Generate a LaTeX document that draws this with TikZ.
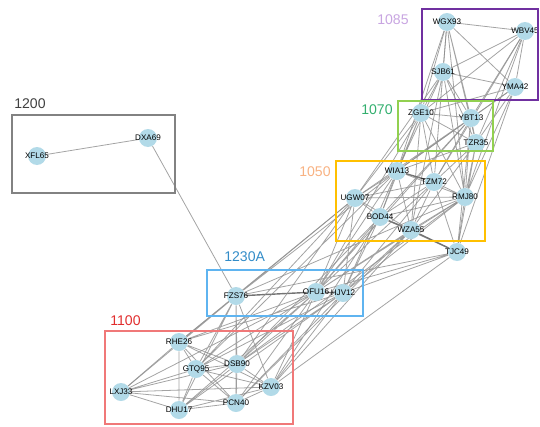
\documentclass[tikz,border=0pt]{standalone}
\usepackage{fontspec}
\setmainfont{Liberation Sans}
\usepackage{tikz}
\usetikzlibrary{backgrounds}

\definecolor{vfill}{RGB}{178,218,232}
\definecolor{ecol}{RGB}{140,140,140}
\definecolor{cPurple}{RGB}{112,48,160}
\definecolor{cLav}{RGB}{200,165,225}
\definecolor{cGreen}{RGB}{146,208,80}
\definecolor{cGreenT}{RGB}{50,175,110}
\definecolor{cGold}{RGB}{255,192,0}
\definecolor{cPeach}{RGB}{248,178,130}
\definecolor{cGrey}{RGB}{130,130,130}
\definecolor{cBlue}{RGB}{95,180,240}
\definecolor{cBlueT}{RGB}{50,140,200}
\definecolor{cRed}{RGB}{240,120,120}
\definecolor{cRedT}{RGB}{225,45,45}

\tikzset{
  vert/.style={circle, fill=vfill, inner sep=0pt, minimum size=0.36cm},
  lbl/.style={font=\fontsize{4.6}{5}\selectfont, text=black, inner sep=0pt},
  edge/.style={ecol, line width=0.45pt, opacity=0.8},
  heavy/.style={black!55, line width=0.8pt},
  grp/.style={line width=0.8pt},
  grplbl/.style={font=\fontsize{8}{9}\selectfont, anchor=west, inner sep=0pt}
}

\begin{document}
\begin{tikzpicture}[x=0.02cm, y=-0.02cm]
        \useasboundingbox (0,0) rectangle (540,426);

        % cluster 1085
        \node[vert, label={[lbl]center:WGX93}] (WGX93) at (447,22) {};
        \node[vert, label={[lbl]center:WBV45}] (WBV45) at (525,31) {};
        \node[vert, label={[lbl]center:SJB61}] (SJB61) at (443,72) {};
        \node[vert, label={[lbl]center:YMA42}] (YMA42) at (515,87) {};

        % cluster 1070
        \node[vert, label={[lbl]center:ZGE10}] (ZGE10) at (421,113) {};
        \node[vert, label={[lbl]center:YBT13}] (YBT13) at (471,118) {};
        \node[vert, label={[lbl]center:TZR35}] (TZR35) at (476,143) {};

        % cluster 1050
        \node[vert, label={[lbl]center:WIA13}] (WIA13) at (397,171) {};
        \node[vert, label={[lbl]center:TZM72}] (TZM72) at (434,182) {};
        \node[vert, label={[lbl]center:RMJ80}] (RMJ80) at (465,197) {};
        \node[vert, label={[lbl]center:UGW07}] (UGW07) at (355,198) {};
        \node[vert, label={[lbl]center:BOD44}] (BOD44) at (380,217) {};
        \node[vert, label={[lbl]center:WZA55}] (WZA55) at (411,230) {};
        \node[vert, label={[lbl]center:TJC49}] (TJC49) at (457,252) {};

        % cluster 1200
        \node[vert, label={[lbl]center:DXA69}] (DXA69) at (148,138) {};
        \node[vert, label={[lbl]center:XFL65}] (XFL65) at (37,156) {};

        % cluster 1230A
        \node[vert, label={[lbl]center:FZS76}] (FZS76) at (236,296) {};
        \node[vert, label={[lbl]center:OFU16}] (OFU16) at (316,292) {};
        \node[vert, label={[lbl]center:HJV12}] (HJV12) at (343,293) {};

        % cluster 1100
        \node[vert, label={[lbl]center:RHE26}] (RHE26) at (179,342) {};
        \node[vert, label={[lbl]center:GTQ95}] (GTQ95) at (196,369) {};
        \node[vert, label={[lbl]center:DSB90}] (DSB90) at (237,364) {};
        \node[vert, label={[lbl]center:KZV03}] (KZV03) at (271,387) {};
        \node[vert, label={[lbl]center:LXJ33}] (LXJ33) at (121,392) {};
        \node[vert, label={[lbl]center:PCN40}] (PCN40) at (236,403) {};
        \node[vert, label={[lbl]center:DHU17}] (DHU17) at (179,410) {};

        \begin{scope}[on background layer]
        % links inside and out of 1085
        \draw[edge] (WGX93) -- (WBV45) (WGX93) -- (SJB61) (WGX93) -- (YMA42)
                    (WBV45) -- (SJB61) (WBV45) -- (YMA42) (SJB61) -- (YMA42);
        \draw[edge] (WGX93) -- (ZGE10) (WGX93) -- (YBT13) (WGX93) -- (TZR35)
                    (SJB61) -- (ZGE10) (SJB61) -- (YBT13) (SJB61) -- (TZR35)
                    (WBV45) -- (YBT13) (WBV45) -- (ZGE10) (WBV45) -- (TZR35)
                    (YMA42) -- (YBT13) (YMA42) -- (ZGE10) (YMA42) -- (TZR35);
        \draw[edge] (WGX93) -- (WIA13) (WGX93) -- (RMJ80) (WGX93) -- (TZM72)
                    (SJB61) -- (WIA13) (SJB61) -- (UGW07) (SJB61) -- (TZM72)
                    (SJB61) -- (RMJ80) (SJB61) -- (WZA55) (WBV45) -- (RMJ80)
                    (WBV45) -- (TZM72) (YMA42) -- (RMJ80) (YMA42) -- (WIA13)
                    (YMA42) -- (TJC49);

        % links inside and out of 1070
        \draw[edge] (ZGE10) -- (YBT13) (ZGE10) -- (TZR35) (YBT13) -- (TZR35);
        \draw[edge] (ZGE10) -- (WIA13) (ZGE10) -- (TZM72) (ZGE10) -- (RMJ80)
                    (ZGE10) -- (UGW07) (ZGE10) -- (BOD44) (ZGE10) -- (WZA55)
                    (YBT13) -- (WIA13) (YBT13) -- (UGW07) (YBT13) -- (TZM72)
                    (YBT13) -- (RMJ80) (YBT13) -- (BOD44) (TZR35) -- (WIA13)
                    (TZR35) -- (RMJ80) (TZR35) -- (WZA55) (TZR35) -- (TZM72)
                    (TZR35) -- (TJC49) (YBT13) -- (TJC49);

        % links inside 1050
        \draw[edge] (WIA13) -- (RMJ80) (WIA13) -- (UGW07) (WIA13) -- (BOD44)
                    (WIA13) -- (WZA55) (TZM72) -- (RMJ80) (TZM72) -- (UGW07)
                    (TZM72) -- (BOD44) (TZM72) -- (WZA55) (RMJ80) -- (UGW07)
                    (RMJ80) -- (BOD44) (RMJ80) -- (WZA55) (UGW07) -- (BOD44)
                    (UGW07) -- (WZA55) (BOD44) -- (TJC49) (RMJ80) -- (TJC49)
                    (TZM72) -- (TJC49);
        \draw[heavy] (WIA13) -- (TZM72) (BOD44) -- (WZA55) (WZA55) -- (TJC49);

        % 1050 down to 1230A
        \draw[edge] (UGW07) -- (FZS76) (UGW07) -- (OFU16) (UGW07) -- (HJV12)
                    (BOD44) -- (OFU16) (BOD44) -- (HJV12) (WIA13) -- (OFU16)
                    (WIA13) -- (HJV12) (WZA55) -- (OFU16) (WZA55) -- (HJV12)
                    (RMJ80) -- (OFU16) (RMJ80) -- (HJV12) (TZM72) -- (OFU16)
                    (TZM72) -- (HJV12) (TJC49) -- (OFU16) (TJC49) -- (HJV12)
                    (TJC49) -- (FZS76) (WIA13) -- (FZS76) (ZGE10) -- (OFU16)
                    (YBT13) -- (OFU16) (RMJ80) -- (FZS76);

        % inside 1230A
        \draw[heavy] (FZS76) -- (OFU16) (OFU16) -- (HJV12);

        % 1230A down to 1100
        \draw[edge] (FZS76) -- (RHE26) (FZS76) -- (GTQ95) (FZS76) -- (DSB90)
                    (FZS76) -- (LXJ33) (FZS76) -- (PCN40) (FZS76) -- (DHU17)
                    (FZS76) -- (KZV03) (OFU16) -- (RHE26) (OFU16) -- (DSB90)
                    (OFU16) -- (GTQ95) (OFU16) -- (PCN40) (OFU16) -- (DHU17)
                    (OFU16) -- (KZV03) (OFU16) -- (LXJ33) (HJV12) -- (RHE26)
                    (HJV12) -- (DSB90) (HJV12) -- (GTQ95) (HJV12) -- (KZV03)
                    (HJV12) -- (PCN40) (HJV12) -- (DHU17);

        % 1050 down to 1100
        \draw[edge] (UGW07) -- (RHE26) (UGW07) -- (DSB90) (UGW07) -- (GTQ95)
                    (BOD44) -- (DSB90) (BOD44) -- (KZV03) (WZA55) -- (PCN40)
                    (WZA55) -- (KZV03) (RMJ80) -- (DSB90) (TJC49) -- (KZV03)
                    (WIA13) -- (GTQ95);

        % inside 1100
        \draw[edge] (RHE26) -- (GTQ95) (RHE26) -- (DSB90) (RHE26) -- (LXJ33)
                    (RHE26) -- (DHU17) (RHE26) -- (PCN40) (RHE26) -- (KZV03)
                    (GTQ95) -- (DSB90) (GTQ95) -- (LXJ33) (GTQ95) -- (DHU17)
                    (GTQ95) -- (PCN40) (GTQ95) -- (KZV03) (DSB90) -- (LXJ33)
                    (DSB90) -- (DHU17) (DSB90) -- (PCN40) (DSB90) -- (KZV03)
                    (KZV03) -- (LXJ33) (KZV03) -- (PCN40) (KZV03) -- (DHU17)
                    (LXJ33) -- (DHU17) (LXJ33) -- (PCN40) (DHU17) -- (PCN40);

        % 1200 and its one link down
        \draw[edge] (XFL65) -- (DXA69) (DXA69) -- (FZS76);
        \end{scope}

        % group boxes with their numbers
        \draw[grp, cPurple] (422,9) rectangle (538,100);
        \node[grplbl, text=cLav] (t1085) at (377,20) {1085};

        \draw[grp, cGreen] (398,101) rectangle (493,151);
        \node[grplbl, text=cGreenT] (t1070) at (361,110) {1070};

        \draw[grp, cGold] (336,161) rectangle (485,241);
        \node[grplbl, text=cPeach] (t1050) at (299,172) {1050};

        \draw[grp, cGrey] (12,115) rectangle (175,193);
        \node[grplbl, text=black!75] (t1200) at (14,104) {1200};

        \draw[grp, cBlue] (207,270) rectangle (363,316);
        \node[grplbl, text=cBlueT] (t1230A) at (224,257) {1230A};

        \draw[grp, cRed] (105,331) rectangle (293,424);
        \node[grplbl, text=cRedT] (t1100) at (110,321) {1100};

      \end{tikzpicture}
\end{document}
